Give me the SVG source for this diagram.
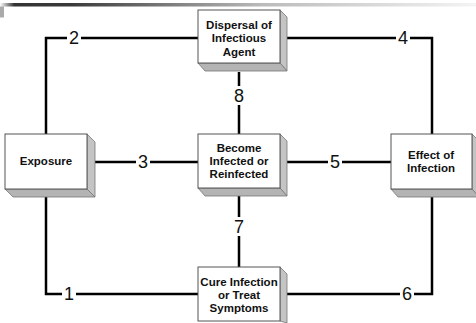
<svg xmlns="http://www.w3.org/2000/svg" width="476" height="323" viewBox="0 0 476 323">
<defs>
<linearGradient id="bar" x1="0" y1="0" x2="1" y2="0">
<stop offset="0" stop-color="#ffffff"/>
<stop offset="0.03" stop-color="#333333"/>
<stop offset="0.15" stop-color="#3a3a3a"/>
<stop offset="0.55" stop-color="#bbbbbb"/>
<stop offset="1" stop-color="#f4f4f4"/>
</linearGradient>
</defs>
<style>
.front{fill:#ffffff;stroke:#555555;stroke-width:1}
.side{fill:#c4c4c4;stroke:#777777;stroke-width:0.8}
.bot{fill:#b4b4b4;stroke:#777777;stroke-width:0.8}
.t{font-family:"Liberation Sans",Arial,sans-serif;font-weight:bold;font-size:11.5px;fill:#111;text-anchor:middle}
.n{font-family:"Liberation Sans",Arial,sans-serif;font-size:18px;fill:#111;text-anchor:middle;dominant-baseline:central}
.c{stroke:#000;stroke-width:2.5;fill:none}
.bg{fill:#fff}
</style>
<rect x="0" y="3" width="476" height="3.5" fill="url(#bar)"/>
<rect x="0" y="6.5" width="4" height="11" fill="#aaaaaa"/>

<g id="connectors">
<path class="c" d="M198 38 H46 V134 M46 197 V294 H198"/>
<path class="c" d="M287 38 H432 V134 M432 197 V294 H287"/>
<path class="c" d="M95 162 H198 M287 162 H391"/>
<path class="c" d="M239 72 V134 M239 196 V267"/>
<rect class="bg" x="67" y="28" width="14" height="20"/>
<text class="n" x="74" y="38">2</text>
<rect class="bg" x="396" y="28" width="14" height="20"/>
<text class="n" x="403" y="38">4</text>
<rect class="bg" x="62" y="284" width="14" height="20"/>
<text class="n" x="69" y="294">1</text>
<rect class="bg" x="400" y="284" width="14" height="20"/>
<text class="n" x="407" y="294">6</text>
<rect class="bg" x="136" y="152" width="14" height="20"/>
<text class="n" x="143" y="162">3</text>
<rect class="bg" x="328" y="152" width="14" height="20"/>
<text class="n" x="335" y="162">5</text>
<rect class="bg" x="231" y="86" width="16" height="19"/>
<text class="n" x="239" y="96">8</text>
<rect class="bg" x="231" y="217" width="16" height="19"/>
<text class="n" x="239" y="227">7</text>
</g>

<g id="dispersal">
<polygon class="side" points="280,10 287,17 287,71 280,63"/>
<polygon class="bot" points="198,63 280,63 287,71 205,71"/>
<rect class="front" x="198" y="10" width="82" height="53"/>
<text class="t" x="239" y="29">Dispersal of</text>
<text class="t" x="239" y="42">Infectious</text>
<text class="t" x="239" y="56">Agent</text>
</g>

<g id="exposure">
<polygon class="side" points="87,134 95,142 95,197 87,189"/>
<polygon class="bot" points="5,189 87,189 95,197 13,197"/>
<rect class="front" x="5" y="134" width="82" height="55"/>
<text class="t" x="46" y="165">Exposure</text>
</g>

<g id="become">
<polygon class="side" points="280,134 287,141 287,196 280,188"/>
<polygon class="bot" points="198,188 280,188 287,196 205,196"/>
<rect class="front" x="198" y="134" width="82" height="54"/>
<text class="t" x="239" y="152">Become</text>
<text class="t" x="239" y="165">Infected or</text>
<text class="t" x="239" y="178">Reinfected</text>
</g>

<g id="effect">
<polygon class="side" points="472,134 479,141 479,197 472,189"/>
<polygon class="bot" points="391,189 472,189 479,197 398,197"/>
<rect class="front" x="391" y="134" width="81" height="55"/>
<text class="t" x="431" y="159">Effect of</text>
<text class="t" x="431" y="172">Infection</text>
</g>

<g id="cure">
<polygon class="side" points="280,267 287,274 287,323 280,321"/>
<rect class="front" x="198" y="267" width="82" height="54"/>
<text class="t" x="239" y="286">Cure Infection</text>
<text class="t" x="239" y="299">or Treat</text>
<text class="t" x="239" y="312">Symptoms</text>
</g>
</svg>
